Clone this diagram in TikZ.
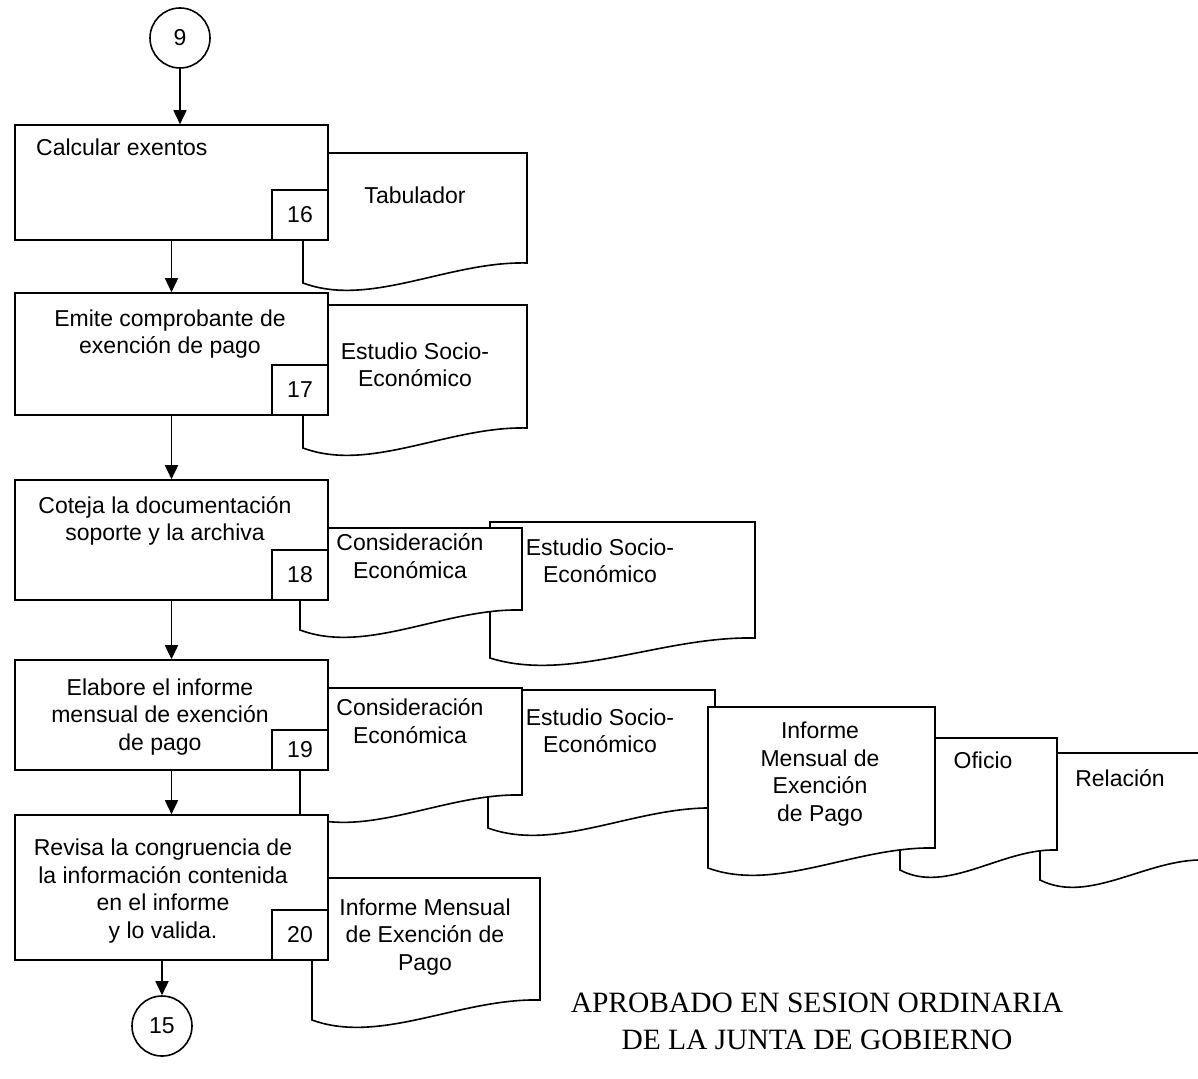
\documentclass[tikz,border=0pt]{standalone}
\usepackage{fontspec}
\setmainfont{Liberation Sans}
\newfontfamily\stampfont{Liberation Serif}
\usetikzlibrary{arrows.meta,positioning}

% document symbol: left, top, right, bottom of the right side
\newcommand{\docshape}[4]{%
  \filldraw[docline] (#1,#2) -- (#3,#2) -- (#3,#4)
    .. controls ({#3-0.35*(#3-#1)},{#4-2}) and ({#1+0.3*(#3-#1)},{#4+45}) .. (#1,{#4+20}) -- cycle;
}

\begin{document}
\begin{tikzpicture}[x=1pt,y=-1pt]

\tikzset{every node/.style = {font=\fontsize{23}{27.5}\selectfont}}
\tikzset{proc/.style = {shape=rectangle,draw,fill=white,line width=1.6pt,minimum width=313pt}}
\tikzset{tabbox/.style = {shape=rectangle,draw,line width=1.6pt,minimum width=56pt,minimum height=50pt,anchor=south east}}
\tikzset{connector/.style = {shape=circle,draw,line width=1.6pt,minimum size=60pt,inner sep=0pt}}
\tikzset{docline/.style = {draw,fill=white,line width=1.6pt}}
\tikzset{txt/.style = {inner sep=0pt,align=center}}
\tikzset{edge/.style = {-{Triangle[length=14pt,width=13pt]},line width=1.6pt}}

\useasboundingbox (0,0) rectangle (1198,1078);

% documents, back to front
\docshape{1040}{753}{1205}{860}
\node[txt] (rel) at (1120,778) {Relación};
\docshape{900}{738}{1057}{850}
\node[txt] (ofi) at (983,760) {Oficio};
\docshape{488}{690}{715}{808}
\node[txt] (est3) at (600,731) {Estudio Socio-\\Económico};
\docshape{708}{707}{935}{848}
\node[txt] (inf1) at (820,774) {Informe\\Mensual de\\Exención\\de Pago};
\docshape{300}{688}{522}{795}
\node[txt] (con2) at (410,721) {Consideración\\Económica};

\docshape{490}{522}{755}{638}
\node[txt] (est2) at (600,561) {Estudio Socio-\\Económico};
\docshape{300}{528}{522}{610}
\node[txt] (con1) at (410,556) {Consideración\\Económica};

\docshape{303}{153}{527}{263}
\node[txt] (tab) at (415,195) {Tabulador};
\docshape{303}{305}{527}{428}
\node[txt] (est1) at (415,365) {Estudio Socio-\\Económico};
\docshape{312}{878}{540}{1000}
\node[txt] (inf2) at (425,937) {Informe Mensual\\de Exención de\\Pago};

% process steps
\node[proc,minimum height=115pt] (p16) at (171.5,182.5) {};
\node[txt,anchor=west] (t16) at (36,147) {Calcular exentos};
\node[tabbox] (n16) at (p16.south east) {16};

\node[proc,minimum height=122pt] (p17) at (171.5,354) {};
\node[txt] (t17) at (170,334) {Emite comprobante de\\exención de pago};
\node[tabbox] (n17) at (p17.south east) {17};

\node[proc,minimum height=120pt] (p18) at (171.5,540) {};
\node[txt] (t18) at (165,521) {Coteja la documentación\\soporte y la archiva};
\node[tabbox] (n18) at (p18.south east) {18};

\node[proc,minimum height=110pt] (p19) at (171.5,715) {};
\node[txt] (t19) at (160,717) {Elabore el informe\\mensual de exención\\de pago};
\node[tabbox,minimum height=40pt] (n19) at (p19.south east) {19};

\node[proc,minimum height=145pt] (p20) at (171.5,887.5) {};
\node[txt] (t20) at (163,891) {Revisa la congruencia de\\la información contenida\\en el informe\\y lo valida.};
\node[tabbox] (n20) at (p20.south east) {20};

% connectors
\node[connector] (c9) at (180,38) {9};
\node[connector] (c15) at (162,1026) {15};

\draw[edge] (c9) to (c9 |- p16.north);
\draw[edge] (p16) to (p17);
\draw[edge] (p17) to (p18);
\draw[edge] (p18) to (p19);
\draw[edge] (p19) to (p20);
\draw[edge] (p20.south -| c15) to (c15);

\node[txt,font=\stampfont\fontsize{29.5}{37}\selectfont] (stamp) at (817,1021)
  {APROBADO EN SESION ORDINARIA\\DE LA JUNTA DE GOBIERNO};

\end{tikzpicture}
\end{document}
